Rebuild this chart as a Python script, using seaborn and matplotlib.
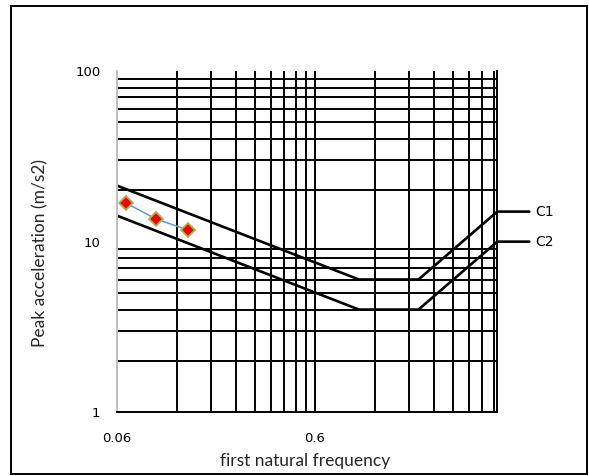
import numpy as np
import pandas as pd
import matplotlib
matplotlib.use("Agg")
import matplotlib.pyplot as plt
import seaborn as sns
from matplotlib.patches import Rectangle

# ---- data ----
curve_freq = [0.06, 1.0, 2.0, 5.0]
c1_accel = [21.3, 6.0, 6.0, 15.0]
c2_accel = [14.2, 4.0, 4.0, 10.0]
curve_names = ["C1", "C2"]

pt_freq = [0.067, 0.094, 0.137]
pt_accel = [16.8, 13.6, 11.7]

x_tick_vals = [0.06, 0.6]
x_tick_labels = ["0.06", "0.6"]
y_tick_vals = [1, 10, 100]
y_tick_labels = ["1", "10", "100"]
x_grid_vals = [0.06 * k for k in range(2, 10)] + [0.6 * k for k in range(1, 9)]
y_grid_vals = list(range(2, 10)) + [10 * k for k in range(2, 10)]

sns.set_theme(style="white")
plt.rcParams["font.family"] = ["DejaVu Sans"]

fig = plt.figure(figsize=(5.89, 4.76), dpi=100)
ax = fig.add_axes([117 / 589, 1 - 412.3 / 476, (497.3 - 117) / 589, (412.3 - 71) / 476])

df_c = pd.DataFrame({
    "freq": curve_freq * 2,
    "accel": c1_accel + c2_accel,
    "curve": ["C1"] * len(curve_freq) + ["C2"] * len(curve_freq),
})
df_p = pd.DataFrame({"freq": pt_freq, "accel": pt_accel})

ax.set_xscale("log")
ax.set_yscale("log")
ax.set_xlim(0.06, 5.0)
ax.set_ylim(1, 100)

# grid lines
ax.xaxis.remove_overlapping_locs = False
ax.yaxis.remove_overlapping_locs = False
ax.set_xticks(x_grid_vals, minor=True)
ax.set_yticks(y_grid_vals, minor=True)
ax.set_xticks(x_tick_vals)
ax.set_xticklabels(x_tick_labels)
ax.set_yticks(y_tick_vals)
ax.set_yticklabels(y_tick_labels)
ax.set_xticklabels([], minor=True)
ax.set_yticklabels([], minor=True)
ax.grid(False, which="major")
ax.grid(True, which="minor", color="black", linewidth=1.4)
ax.set_axisbelow(True)
ax.tick_params(which="both", length=0)
ax.tick_params(axis="x", pad=14, labelsize=9.5, colors="black")
ax.tick_params(axis="y", pad=12, labelsize=9.5, colors="black")

sns.lineplot(data=df_c, x="freq", y="accel", units="curve", estimator=None,
             color="black", linewidth=1.9, ax=ax, legend=False)
sns.lineplot(data=df_p, x="freq", y="accel", color="#5B9BD5", linewidth=1.1,
             ax=ax, legend=False)
ax.plot(df_p["freq"], df_p["accel"], linestyle="none", marker="D",
        markersize=6.8, markerfacecolor="#FF0000", markeredgecolor="#9BBB59",
        markeredgewidth=1.3, zorder=5)

# curve labels
for name, vals in zip(curve_names, [c1_accel, c2_accel]):
    ax.annotate(name, xy=(curve_freq[-1], vals[-1]), xytext=(38, 0),
                textcoords="offset pixels", ha="left", va="center",
                fontsize=10, color="black", annotation_clip=False,
                arrowprops=dict(arrowstyle="-", color="black", lw=1.9,
                                shrinkA=2, shrinkB=0, relpos=(0, 0.5)))

ax.spines["top"].set_visible(False)
ax.spines["left"].set_color("#BFBFBF")
ax.spines["left"].set_linewidth(1.5)
ax.spines["bottom"].set_color("black")
ax.spines["bottom"].set_linewidth(1.4)
ax.spines["right"].set_color("black")
ax.spines["right"].set_linewidth(1.4)

ax.set_xlabel("")
ax.set_ylabel("")
fig.text(305 / 589, 1 - 461 / 476, "first natural frequency", ha="center",
         va="center", fontsize=12.5, family=["Lato", "DejaVu Sans"])
fig.text(40 / 589, 1 - 253 / 476, "Peak acceleration (m/s2)", ha="center",
         va="center", rotation=90, fontsize=12.5, family=["Lato", "DejaVu Sans"])

fig.patches.append(Rectangle((10.5 / 589, 1 - 473.5 / 476),
                             (587.3 - 10.5) / 589, (473.5 - 6) / 476,
                             transform=fig.transFigure, fill=False,
                             edgecolor="black", linewidth=1.4))

fig.savefig("out.png", dpi=100)
